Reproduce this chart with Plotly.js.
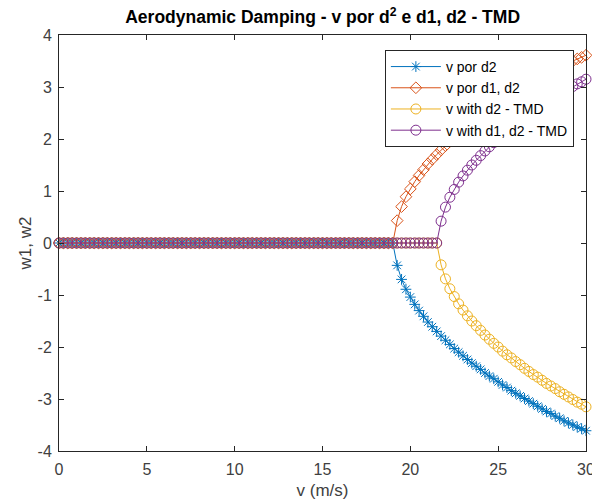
<!DOCTYPE html>
<html>
<head>
<meta charset="utf-8">
<script src="https://cdn.plot.ly/plotly-3.0.1.min.js"></script>
<style>html,body{margin:0;padding:0;background:#fff;}#chart{width:592px;height:504px;}</style>
</head>
<body>
<div id="chart"></div>
<script>
// wind speed (m/s)
const v = [0,0.25,0.5,0.75,1,1.25,1.5,1.75,2,2.25,2.5,2.75,3,3.25,3.5,3.75,4,4.25,4.5,4.75,
5,5.25,5.5,5.75,6,6.25,6.5,6.75,7,7.25,7.5,7.75,8,8.25,8.5,8.75,9,9.25,9.5,9.75,
10,10.25,10.5,10.75,11,11.25,11.5,11.75,12,12.25,12.5,12.75,13,13.25,13.5,13.75,14,14.25,14.5,14.75,
15,15.25,15.5,15.75,16,16.25,16.5,16.75,17,17.25,17.5,17.75,18,18.25,18.5,18.75,19,19.25,19.5,19.75,
20,20.25,20.5,20.75,21,21.25,21.5,21.75,22,22.25,22.5,22.75,23,23.25,23.5,23.75,24,24.25,24.5,24.75,
25,25.25,25.5,25.75,26,26.25,26.5,26.75,27,27.25,27.5,27.75,28,28.25,28.5,28.75,29,29.25,29.5,29.75,30];

// v por d2 (w1)
const vPorD2 = [0,0,0,0,0,0,0,0,0,0,0,0,0,0,0,0,0,0,0,0,
0,0,0,0,0,0,0,0,0,0,0,0,0,0,0,0,0,0,0,0,
0,0,0,0,0,0,0,0,0,0,0,0,0,0,0,0,0,0,0,0,
0,0,0,0,0,0,0,0,0,0,0,0,0,0,0,0,0,
-0.43,-0.70,-0.89,-1.04,-1.18,-1.30,-1.41,-1.52,-1.61,-1.70,-1.79,-1.87,-1.95,-2.03,-2.10,-2.17,
-2.24,-2.31,-2.37,-2.43,-2.50,-2.56,-2.61,-2.67,-2.73,-2.78,-2.84,-2.89,-2.94,-2.99,-3.04,-3.09,
-3.14,-3.19,-3.24,-3.28,-3.33,-3.37,-3.42,-3.46,-3.50,-3.54,-3.57,-3.61];

// v por d1, d2 (w2)
const vPorD1D2 = [0,0,0,0,0,0,0,0,0,0,0,0,0,0,0,0,0,0,0,0,
0,0,0,0,0,0,0,0,0,0,0,0,0,0,0,0,0,0,0,0,
0,0,0,0,0,0,0,0,0,0,0,0,0,0,0,0,0,0,0,0,
0,0,0,0,0,0,0,0,0,0,0,0,0,0,0,0,0,
0.43,0.70,0.89,1.04,1.18,1.30,1.41,1.52,1.61,1.70,1.79,1.87,1.95,2.03,2.10,2.17,
2.24,2.31,2.37,2.43,2.50,2.56,2.61,2.67,2.73,2.78,2.84,2.89,2.94,2.99,3.04,3.09,
3.14,3.19,3.24,3.28,3.33,3.37,3.42,3.46,3.50,3.54,3.57,3.61];

// v with d2 - TMD (w1)
const vWithD2TMD = [0,0,0,0,0,0,0,0,0,0,0,0,0,0,0,0,0,0,0,0,
0,0,0,0,0,0,0,0,0,0,0,0,0,0,0,0,0,0,0,0,
0,0,0,0,0,0,0,0,0,0,0,0,0,0,0,0,0,0,0,0,
0,0,0,0,0,0,0,0,0,0,0,0,0,0,0,0,0,0,0,0,
0,0,0,0,0,0,0,
-0.42,-0.69,-0.88,-1.03,-1.17,-1.29,-1.40,-1.50,-1.59,-1.68,-1.77,-1.85,-1.93,-2.00,-2.08,-2.15,
-2.21,-2.28,-2.34,-2.41,-2.47,-2.53,-2.58,-2.64,-2.70,-2.75,-2.80,-2.86,-2.91,-2.96,-3.01,-3.06,
-3.10,-3.15];

// v with d1, d2 - TMD (w2)
const vWithD1D2TMD = [0,0,0,0,0,0,0,0,0,0,0,0,0,0,0,0,0,0,0,0,
0,0,0,0,0,0,0,0,0,0,0,0,0,0,0,0,0,0,0,0,
0,0,0,0,0,0,0,0,0,0,0,0,0,0,0,0,0,0,0,0,
0,0,0,0,0,0,0,0,0,0,0,0,0,0,0,0,0,0,0,0,
0,0,0,0,0,0,0,
0.42,0.69,0.88,1.03,1.17,1.29,1.40,1.50,1.59,1.68,1.77,1.85,1.93,2.00,2.08,2.15,
2.21,2.28,2.34,2.41,2.47,2.53,2.58,2.64,2.70,2.75,2.80,2.86,2.91,2.96,3.01,3.06,
3.10,3.15];

const names = ['v por d2','v por d1, d2','v with d2 - TMD','v with d1, d2 - TMD'];
const xTicks = [0,5,10,15,20,25,30];
const yTicks = [-4,-3,-2,-1,0,1,2,3,4];

const colors = ['#0072BD','#D95319','#EDB120','#7E2F8E'];
const symbols = ['asterisk-open','diamond-open','circle-open','circle-open'];
const sizes = [9,9,10,10];
const ys = [vPorD2, vPorD1D2, vWithD2TMD, vWithD1D2TMD];

const data = ys.map((y,i)=>({
  x: v, y: y, type:'scatter', mode:'lines+markers', name: names[i], cliponaxis:false,
  line:{color:colors[i], width:1},
  marker:{symbol:symbols[i], size:sizes[i], color:colors[i], line:{width:1, color:colors[i]}}
}));

const FONT = 'Liberation Sans, Arial, sans-serif';
const axisCommon = {
  showgrid:false, zeroline:false, showline:true, linecolor:'#262626', linewidth:1,
  mirror:'ticks', ticks:'inside', ticklen:5, tickcolor:'#262626',
  ticklabeloverflow:'allow', automargin:false,
  tickfont:{family:FONT, size:16, color:'#404040'}
};

const layout = {
  width:592, height:504,
  margin:{l:59, r:6, t:35, b:53},
  paper_bgcolor:'#fff', plot_bgcolor:'#fff',
  font:{family:FONT, color:'#262626'},
  title:{text:'<b>Aerodynamic Damping - v por d<sup>2</sup> e d1, d2 - TMD</b>',
    font:{family:FONT, size:17.5, color:'#000'}, x:0.545, xanchor:'center',
    yref:'container', y:1-17/504, yanchor:'middle'},
  xaxis: Object.assign({}, axisCommon, {range:[0,30], tickvals:xTicks, ticktext:xTicks.map(String),
    ticklabelstandoff:4,
    title:{text:'v (m/s)', font:{family:FONT, size:17, color:'#404040'}, standoff:6}}),
  yaxis: Object.assign({}, axisCommon, {range:[-4,4], tickvals:yTicks, ticktext:yTicks.map(String),
    ticklabelstandoff:3,
    title:{text:'w1, w2', font:{family:FONT, size:17, color:'#404040'}, standoff:1}}),
  legend:{x:0.977, xanchor:'right', y:0.964, yanchor:'top', bgcolor:'#fff',
    bordercolor:'#262626', borderwidth:1, font:{family:FONT, size:14, color:'#000'},
    tracegroupgap:0, itemwidth:50},
  showlegend:true
};

Plotly.newPlot('chart', data, layout, {displayModeBar:false, staticPlot:true});
</script>
</body>
</html>
